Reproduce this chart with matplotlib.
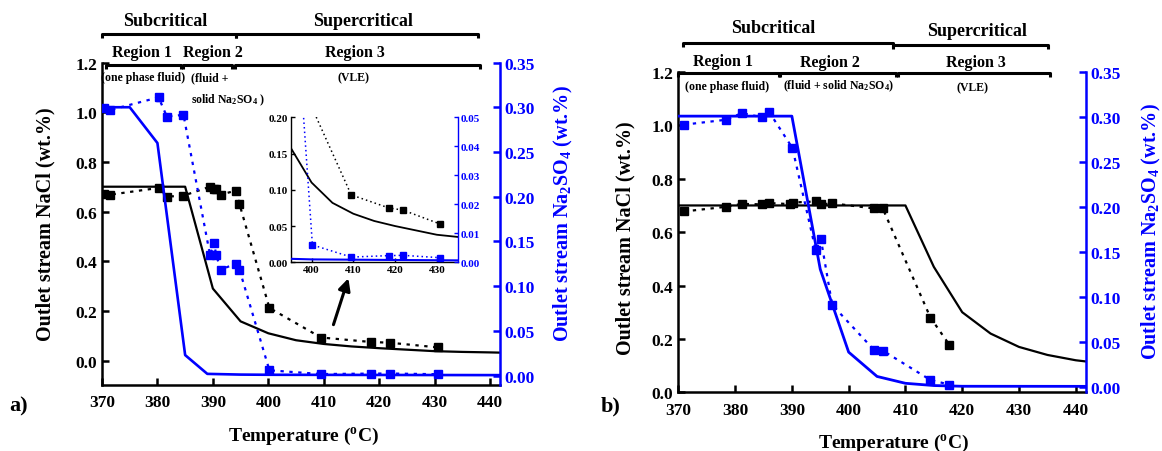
import matplotlib
matplotlib.use("Agg")
import matplotlib.pyplot as plt
from matplotlib.lines import Line2D

plt.rcParams['font.family'] = ['Liberation Serif', 'DejaVu Serif']
plt.rcParams['font.weight'] = 'bold'
plt.rcParams['mathtext.fontset'] = 'custom'
plt.rcParams['mathtext.rm'] = 'Liberation Serif:bold'
plt.rcParams['mathtext.it'] = 'Liberation Serif:bold'
plt.rcParams['mathtext.bf'] = 'Liberation Serif:bold'

BLUE = '#0000ff'

# ---------------- Panel a data ----------------
a_exp_T = [370.3, 371.5, 380.2, 381.7, 384.7, 389.5, 390.2, 390.6, 391.4, 394.1, 394.8, 400.2, 409.5, 418.5, 421.9, 430.7]
a_exp_nacl = [0.671, 0.668, 0.695, 0.660, 0.664, 0.700, 0.691, 0.691, 0.668, 0.684, 0.630, 0.212, 0.093, 0.075, 0.072, 0.053]
a_exp_na2so4 = [0.2997, 0.297, 0.311, 0.2896, 0.2915, 0.1345, 0.1487, 0.135, 0.1185, 0.125, 0.1185, 0.006, 0.0018, 0.0023, 0.0024, 0.0016]
a_exp_na2so4_err = [0, 0, 0.004, 0, 0, 0, 0, 0, 0, 0, 0, 0, 0, 0, 0, 0]

a_mod_T_nacl = [370, 385, 390, 395, 400, 405, 410, 415, 420, 425, 430, 435, 440, 442]
a_mod_nacl = [0.70, 0.70, 0.29, 0.158, 0.110, 0.082, 0.067, 0.057, 0.050, 0.044, 0.038, 0.035, 0.033, 0.032]
a_mod_T_na2so4 = [370, 375, 380, 385, 389, 395, 400, 420, 442]
a_mod_na2so4 = [0.30, 0.30, 0.26, 0.023, 0.002, 0.0012, 0.001, 0.0008, 0.0006]

# ---------------- Panel b data ----------------
b_exp_T = [371.0, 378.4, 381.2, 384.8, 386.0, 389.7, 390.2, 394.2, 395.1, 397.1, 404.4, 406.0, 414.4, 417.7]
b_exp_nacl = [0.6775, 0.695, 0.706, 0.704, 0.709, 0.705, 0.711, 0.715, 0.704, 0.708, 0.689, 0.689, 0.280, 0.179]
b_exp_T2 = [371.0, 378.4, 381.2, 384.8, 386.0, 390.1, 394.2, 395.1, 397.1, 404.4, 406.0, 414.4, 417.7]
b_exp_na2so4 = [0.2915, 0.297, 0.3044, 0.2996, 0.3056, 0.2656, 0.1519, 0.1648, 0.0915, 0.0419, 0.0407, 0.0081, 0.003]

b_mod_T_nacl = [370, 410, 415, 420, 425, 430, 435, 440, 442]
b_mod_nacl = [0.70, 0.70, 0.47, 0.30, 0.22, 0.17, 0.14, 0.12, 0.115]
b_mod_T_na2so4 = [370, 390, 395, 400, 405, 410, 415, 420, 442]
b_mod_na2so4 = [0.301, 0.301, 0.131, 0.039, 0.012, 0.0044, 0.0019, 0.0011, 0.001]

x_ticks = [370, 380, 390, 400, 410, 420, 430, 440]
left_ticks = [0.0, 0.2, 0.4, 0.6, 0.8, 1.0, 1.2]
right_ticks = [0.00, 0.05, 0.10, 0.15, 0.20, 0.25, 0.30, 0.35]

W, H = 1162, 452
fig = plt.figure(figsize=(W / 100, H / 100), dpi=100)

FS_TOP = 13
FS_REG = 11.5
FS_SUB = 8.5
FS_YLAB = 14.5
FS_XLAB = 14


def fx(px):
    return px / W


def fy(py):
    return 1 - py / H


def make_axes(l, r, t, b):
    return fig.add_axes([fx(l), fy(b), fx(r) - fx(l), fy(t) - fy(b)])


def style(ax, ax2, lw=1.8, fs=12.5):
    ax.spines['top'].set_visible(False)
    ax2.spines['top'].set_visible(False)
    ax.spines['right'].set_visible(False)
    ax2.spines['left'].set_visible(False)
    ax2.spines['bottom'].set_visible(False)
    for s in ['left', 'bottom']:
        ax.spines[s].set_linewidth(lw)
    ax2.spines['right'].set_linewidth(lw)
    ax2.spines['right'].set_color(BLUE)
    ax.tick_params(direction='in', width=lw, length=5, labelsize=fs)
    ax2.tick_params(direction='in', width=lw, length=5, labelsize=fs, colors=BLUE)
    for lab in ax.get_xticklabels() + ax.get_yticklabels() + ax2.get_yticklabels():
        lab.set_fontweight('bold')


def bracket(x0, x1, y, drop=4, lw=2.2):
    fig.add_artist(Line2D([fx(x0), fx(x0), fx(x1), fx(x1)],
                          [fy(y + drop), fy(y), fy(y), fy(y + drop)],
                          color='black', lw=lw, solid_capstyle='butt'))


def ftext(x, y, s, fs, ha='center', **kw):
    fig.text(fx(x), fy(y), s, ha=ha, va='center', fontsize=fs, fontweight='bold', **kw)


# ================= Panel a =================
ax1 = make_axes(102, 500, 63.5, 385.7)
ax1b = ax1.twinx()
ax1.set_xlim(370, 441.8)
ax1.set_ylim(-0.097, 1.2)
ax1b.set_ylim(-0.0101, 0.35)

ax1.plot(a_mod_T_nacl, a_mod_nacl, '-', color='black', lw=1.6)
ax1.plot(a_exp_T, a_exp_nacl, ls=(0, (1.5, 2.5)), color='black', lw=1.6,
         marker='s', ms=5.5, mfc='black', mec='black')
ax1b.plot(a_mod_T_na2so4, a_mod_na2so4, '-', color=BLUE, lw=1.9)
ax1b.errorbar(a_exp_T, a_exp_na2so4, yerr=a_exp_na2so4_err, ls=(0, (1.5, 2.5)),
              color=BLUE, lw=1.6, marker='s', ms=5.5, capsize=2.5, elinewidth=1.2)

ax1.set_xticks(x_ticks)
ax1.set_yticks(left_ticks)
ax1.set_yticklabels([f'{v:.1f}' for v in left_ticks])
ax1b.set_yticks(right_ticks)
ax1b.set_yticklabels([f'{v:.2f}' for v in right_ticks])
style(ax1, ax1b)
ax1.tick_params(axis='x', pad=7)

ax1.annotate('', xy=(414.6, 0.342), xytext=(411.6, 0.134),
             arrowprops=dict(arrowstyle='-|>', color='black', lw=2.2,
                             mutation_scale=18))

# inset
axi = make_axes(290.7, 457.7, 118.3, 263.3)
axib = axi.twinx()
axi.set_xlim(395, 435)
axi.set_ylim(0, 0.2)
axib.set_ylim(0, 0.05)
axi.plot(a_mod_T_nacl, a_mod_nacl, '-', color='black', lw=1.3)
axi.plot(a_exp_T, a_exp_nacl, ls=(0, (1, 2)), color='black', lw=1.1,
         marker='s', ms=4, mfc='black', mec='black')
axib.plot(a_mod_T_na2so4, a_mod_na2so4, '-', color=BLUE, lw=1.5)
axib.plot(a_exp_T, a_exp_na2so4, ls=(0, (1, 2)), color=BLUE, lw=1.1,
          marker='s', ms=4)
axi.set_xticks([400, 410, 420, 430])
axi.set_yticks([0.0, 0.05, 0.10, 0.15, 0.20])
axi.set_yticklabels(['0.00', '0.05', '0.10', '0.15', '0.20'])
axib.set_yticks([0.0, 0.01, 0.02, 0.03, 0.04, 0.05])
axib.set_yticklabels(['0.00', '0.01', '0.02', '0.03', '0.04', '0.05'])
style(axi, axib, lw=1.0, fs=8)
axi.tick_params(length=3, pad=2)
axib.tick_params(length=3, pad=2)

# panel a annotations
ftext(165, 22, 'Subcritical', FS_TOP)
ftext(363, 22, 'Supercritical', FS_TOP)
bracket(101.7, 236, 35)
bracket(236, 477.7, 35)
ftext(141.7, 52.7, 'Region 1', FS_REG)
ftext(213.3, 52.7, 'Region 2', FS_REG)
ftext(355, 52.7, 'Region 3', FS_REG)
bracket(106, 181, 65.7)
bracket(183.3, 232.3, 65.7)
bracket(235.3, 480, 65.7)
ftext(143.3, 78.3, '(one phase fluid)', FS_SUB)
ftext(191, 78.3, '(fluid +', FS_SUB, ha='left')
ftext(191, 100, r'solid Na$_2$SO$_4$ )', FS_SUB, ha='left')
ftext(353.3, 78.3, '(VLE)', FS_SUB)

ftext(45, 224, 'Outlet stream NaCl (wt.%)', FS_YLAB, rotation=90)
ftext(563, 213.5, r'Outlet stream Na$_2$SO$_4$ (wt.%)', FS_YLAB, rotation=90, color=BLUE)
ftext(304, 436, r'Temperature ($^{\mathrm{o}}$C)', FS_XLAB)
ftext(19, 406, 'a)', 16)

# ================= Panel b =================
ax2 = make_axes(678.3, 1086, 73, 393.3)
ax2b = ax2.twinx()
ax2.set_xlim(370, 441.8)
ax2.set_ylim(0, 1.2)
ax2b.set_ylim(-0.0056, 0.35)

ax2.plot(b_mod_T_nacl, b_mod_nacl, '-', color='black', lw=1.6)
ax2.plot(b_exp_T, b_exp_nacl, ls=(0, (1.5, 2.5)), color='black', lw=1.6,
         marker='s', ms=5.5, mfc='black', mec='black')
ax2b.plot(b_mod_T_na2so4, b_mod_na2so4, '-', color=BLUE, lw=2.0)
ax2b.plot(b_exp_T2, b_exp_na2so4, ls=(0, (1.5, 2.5)), color=BLUE, lw=1.6,
          marker='s', ms=5.5)

ax2.set_xticks(x_ticks)
ax2.set_yticks(left_ticks)
ax2.set_yticklabels([f'{v:.1f}' for v in left_ticks])
ax2b.set_yticks(right_ticks)
ax2b.set_yticklabels([f'{v:.2f}' for v in right_ticks])
style(ax2, ax2b)
ax2.tick_params(axis='x', pad=7)

ftext(773.3, 28.3, 'Subcritical', FS_TOP)
ftext(977.3, 31, 'Supercritical', FS_TOP)
bracket(682.7, 893.3, 44.3)
bracket(893.3, 1047.7, 46.3)
ftext(723.3, 61.7, 'Region 1', FS_REG)
ftext(830, 63, 'Region 2', FS_REG)
ftext(976, 63, 'Region 3', FS_REG)
bracket(678.3, 779, 74)
bracket(780, 896, 74)
bracket(897.7, 1050, 74)
ftext(726.7, 86.7, '(one phase fluid)', FS_SUB)
ftext(838.3, 86.7, r'(fluid + solid Na$_2$SO$_4$)', FS_SUB)
ftext(972.7, 88, '(VLE)', FS_SUB)

ftext(625, 238, 'Outlet stream NaCl (wt.%)', FS_YLAB, rotation=90)
ftext(1151.7, 232, r'Outlet stream Na$_2$SO$_4$ (wt.%)', FS_YLAB, rotation=90, color=BLUE)
ftext(894, 443, r'Temperature ($^{\mathrm{o}}$C)', FS_XLAB)
ftext(611, 406, 'b)', 16)

fig.savefig('out.png', dpi=100)
